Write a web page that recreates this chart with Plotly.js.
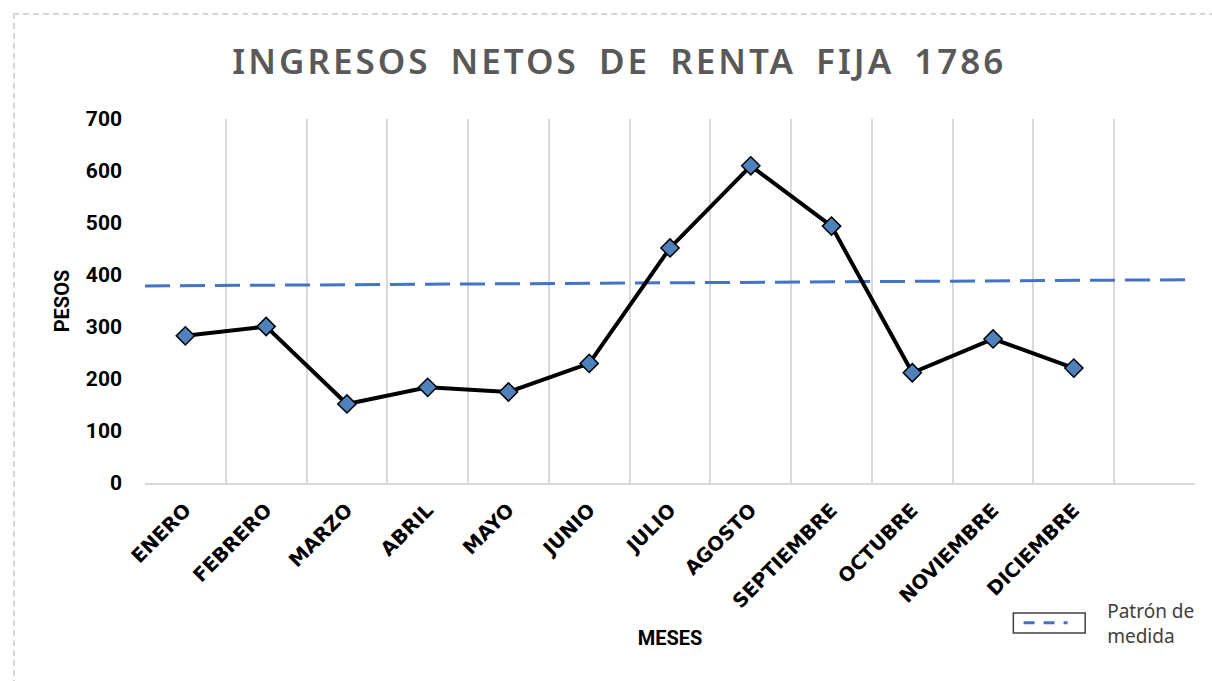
<!DOCTYPE html>
<html>
<head>
<meta charset="utf-8">
<script src="https://cdn.plot.ly/plotly-3.0.1.min.js"></script>
<style>
  html, body { margin: 0; padding: 0; background: #ffffff; overflow: hidden; }
  #chart { width: 1212px; height: 681px; }
  #frame { position: absolute; left: 13px; top: 13px; width: 1400px; height: 900px;
           border-left: 2px dashed #d6d6d6; border-top: 2px dashed #d6d6d6; pointer-events: none; }
</style>
</head>
<body>
<div id="chart"></div>
<div id="frame"></div>
<script>
// ---- data ----
const meses = ["ENERO", "FEBRERO", "MARZO", "ABRIL", "MAYO", "JUNIO", "JULIO",
               "AGOSTO", "SEPTIEMBRE", "OCTUBRE", "NOVIEMBRE", "DICIEMBRE"];
const ingresos = [283, 301, 152, 184, 175, 230, 452, 610, 494, 212, 277, 221];
// "Patrón de medida": straight reference line across the whole category span
const patronExtent = [-0.5, 12.5];
const patronValores = [379, 391];
const yTicks = [0, 100, 200, 300, 400, 500, 600, 700];

const idx = meses.map((m, i) => i);
const pad = "\u00a0\u00a0\u00a0\u00a0\u00a0\u00a0\u00a0";

const traces = [
  {
    x: patronExtent, y: patronValores, type: "scatter", mode: "lines",
    line: { color: "#4472C4", width: 3, dash: "25px,10px" },
    showlegend: false, hoverinfo: "skip"
  },
  {
    x: idx, y: ingresos, type: "scatter", mode: "lines+markers",
    line: { color: "#000000", width: 4 },
    marker: { symbol: "diamond", size: 14, color: "#4F81BD", line: { color: "#000000", width: 1.5 } },
    showlegend: false
  },
  {
    x: [null], y: [null], type: "scatter", mode: "lines",
    name: pad + "Patrón de<br>" + pad + "medida",
    line: { color: "#4472C4", width: 3, dash: "11px,9px" },
    showlegend: true
  }
];

const layout = {
  width: 1212, height: 681,
  margin: { l: 145, r: 15, t: 119, b: 198 },
  paper_bgcolor: "#ffffff", plot_bgcolor: "#ffffff",
  title: {
    text: "INGRESOS NETOS DE RENTA FIJA 1786",
    font: { family: "Noto Sans, Open Sans, sans-serif", size: 35, color: "#595959", weight: 600 },
    x: 0.511, xref: "container", xanchor: "center",
    y: 0.909, yref: "container", yanchor: "middle"
  },
  xaxis: {
    range: [-0.5, 12.5],
    tickmode: "array", tickvals: idx, ticktext: meses,
    tickangle: -45,
    tickfont: { family: "DejaVu Sans, Verdana, sans-serif", size: 19.5, color: "#000000", weight: 700 },
    ticks: "", ticklabelstandoff: 6,
    showgrid: false, zeroline: false,
    showline: true, linecolor: "#d9d9d9", linewidth: 2,
    minor: { tickmode: "linear", tick0: -0.5, dtick: 1, showgrid: true, gridcolor: "#d9d9d9", gridwidth: 2, ticks: "" },
    title: {
      text: "MESES", standoff: 19,
      font: { family: "Roboto, Noto Sans, sans-serif", size: 20, color: "#000000", weight: 700 }
    },
    automargin: false, fixedrange: true
  },
  yaxis: {
    range: [0, 700],
    tickmode: "array", tickvals: yTicks,
    tickfont: { family: "Roboto, Noto Sans, sans-serif", size: 21, color: "#000000", weight: 700 },
    ticks: "", ticklabelstandoff: 22,
    showgrid: false, zeroline: false, showline: false,
    title: {
      text: "PESOS", standoff: 10,
      font: { family: "Roboto, Noto Sans, sans-serif", size: 20, color: "#000000", weight: 700 }
    },
    automargin: false, fixedrange: true
  },
  showlegend: true,
  legend: {
    x: 0.832, xanchor: "left", y: -0.385, yanchor: "middle",
    itemwidth: 44, valign: "middle",
    bgcolor: "rgba(0,0,0,0)", borderwidth: 0,
    font: { family: "Noto Sans, Open Sans, sans-serif", size: 19, color: "#404040" }
  },
  shapes: [
    { type: "rect", xref: "paper", yref: "paper", x0: 0.827, x1: 0.8954, y0: -0.412, y1: -0.357,
      line: { color: "#404040", width: 1.5 }, fillcolor: "rgba(0,0,0,0)", layer: "below" }
  ]
};

Plotly.newPlot("chart", traces, layout, { displayModeBar: false, staticPlot: true }).then(function () {
  document.querySelectorAll(".gtitle").forEach(function (t) {
    t.style.letterSpacing = "3px";
    t.style.wordSpacing = "8px";
  });
});
</script>
</body>
</html>
